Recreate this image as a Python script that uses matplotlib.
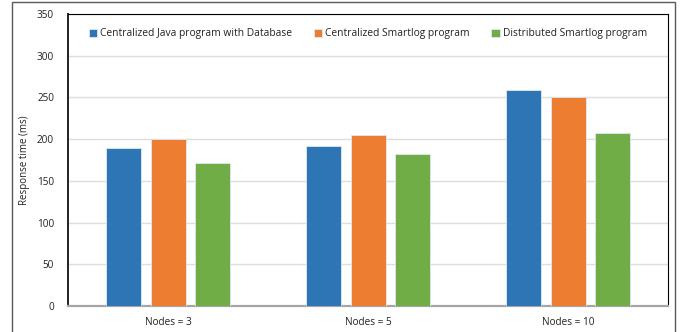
import matplotlib
matplotlib.use("Agg")
import matplotlib.pyplot as plt
import numpy as np
from matplotlib.patches import Rectangle

categories = ["Nodes = 3", "Nodes = 5", "Nodes = 10"]
series_names = [
    "Centralized Java program with Database",
    "Centralized Smartlog program",
    "Distributed Smartlog program",
]
java_db = [189, 192, 259]
smartlog_central = [200, 205, 250]
smartlog_distributed = [171, 182, 207]
y_ticks = [0, 50, 100, 150, 200, 250, 300, 350]

colors = ["#2E75B6", "#ED7D31", "#70AD47"]

plt.rcParams["font.family"] = ["Open Sans", "DejaVu Sans"]

fig = plt.figure(figsize=(6.81, 3.32), dpi=100)
W, H = 681, 332
ax = fig.add_axes([68 / W, 1 - 306 / H, 600 / W, 292 / H])

x = np.arange(len(categories))
width = 0.175
step = 0.2225
for i, (vals, name) in enumerate(zip([java_db, smartlog_central, smartlog_distributed], series_names)):
    ax.bar(x + (i - 1) * step, vals, width, color=colors[i], label=name,
           edgecolor="#dfe9f3", linewidth=0.6, zorder=3)

ax.set_xlim(-0.5, 2.5)
ax.set_ylim(0, 350)
ax.set_yticks(y_ticks)
ax.set_xticks(x)
ax.set_xticklabels(categories)
ax.tick_params(axis="both", length=0, labelsize=7.2, colors="#222222")
ax.tick_params(axis="x", pad=8)
ax.tick_params(axis="y", pad=10)
ax.grid(axis="y", color="#dddddd", linewidth=1, zorder=0)
ax.set_ylabel("Response time (ms)", fontsize=7, color="#222222", labelpad=5)

for side in ["top", "right"]:
    ax.spines[side].set_color("black")
    ax.spines[side].set_linewidth(0.8)
ax.spines["left"].set_color("#222222")
ax.spines["left"].set_linewidth(1.4)
ax.spines["bottom"].set_color("#a6a6a6")
ax.spines["bottom"].set_linewidth(1.6)

leg = ax.legend(loc="upper center", ncol=3, frameon=False, fontsize=7.4,
                bbox_to_anchor=(0.5, 1.0), handlelength=0.8, handleheight=0.8,
                handletextpad=0.3, columnspacing=2.1, borderaxespad=1.0)
for t in leg.get_texts():
    t.set_color("#222222")

# outer chart frame
fig.patches.append(Rectangle((12 / W, -0.05), (675 - 12) / W, 1 - 2 / H + 0.05,
                             transform=fig.transFigure, fill=False,
                             edgecolor="#5a5a5a", linewidth=1.0))

fig.savefig("out.png", dpi=100)
